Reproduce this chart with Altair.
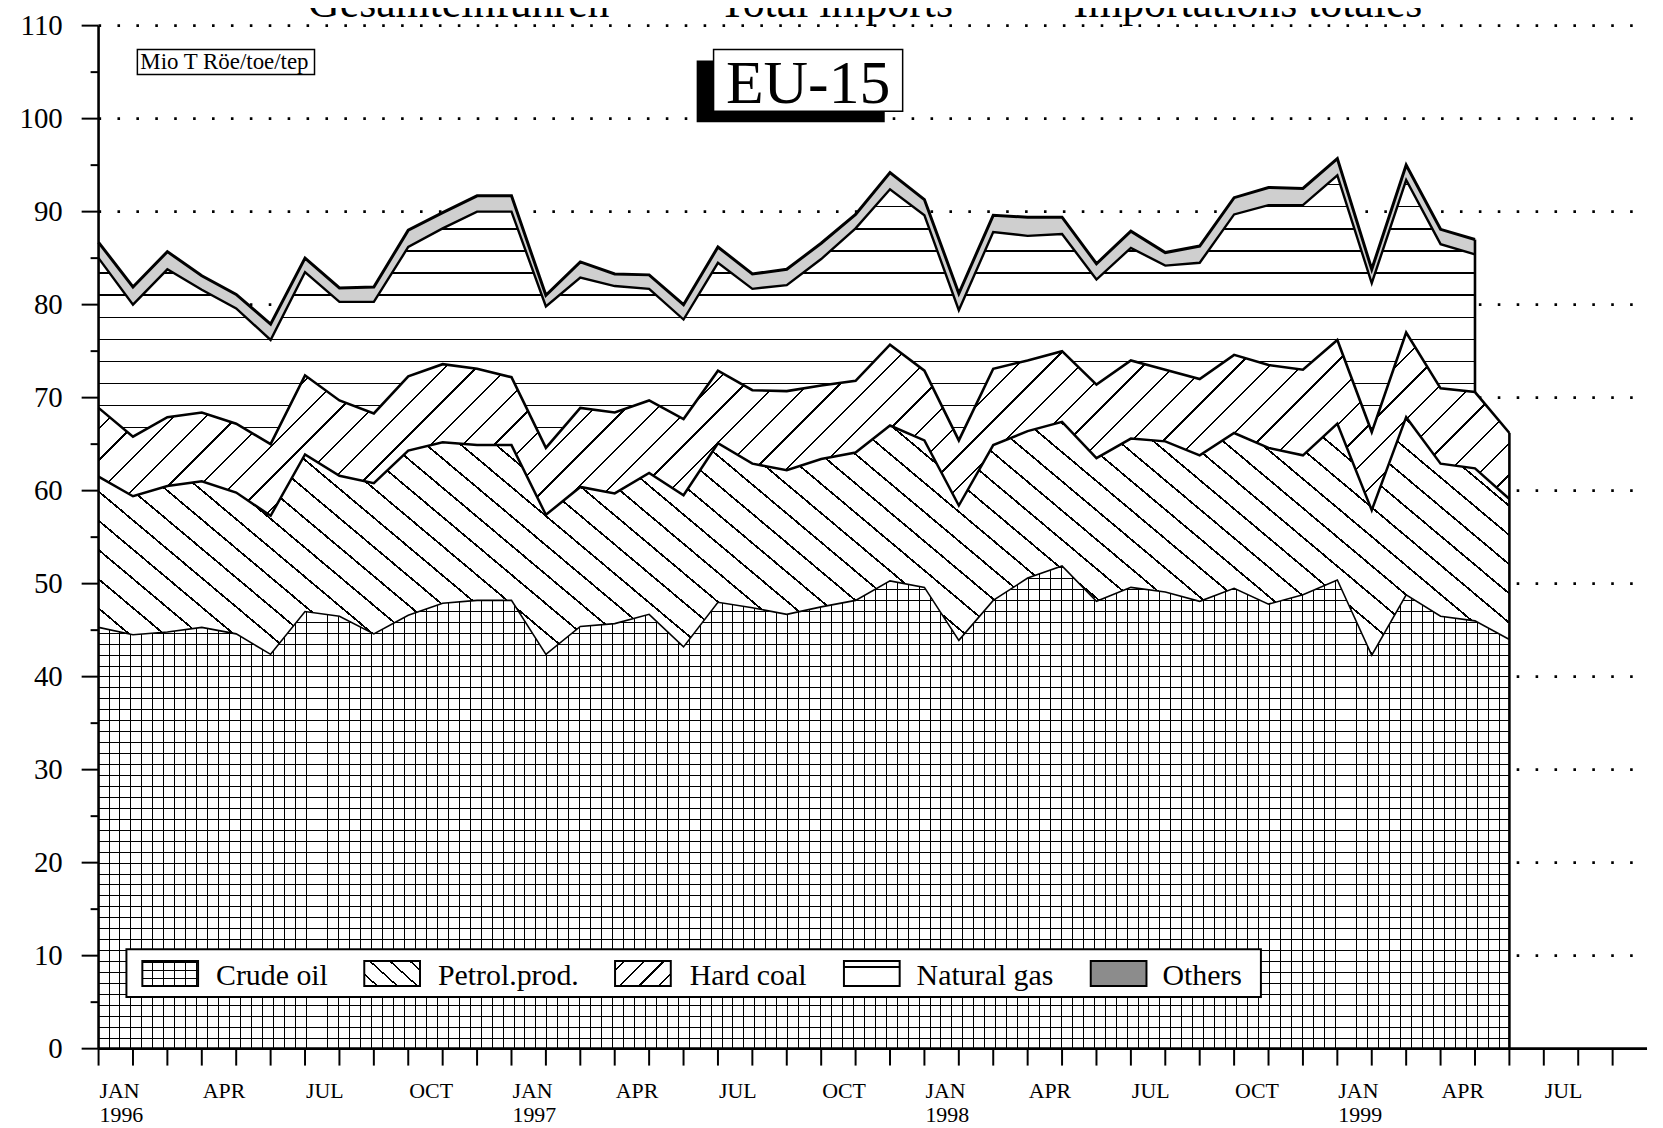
import math
import altair as alt
import pandas as pd

# ---------------- data (Mio t oil equivalent, monthly, Jan 1996 = index 0) ----------------
months_idx = list(range(42))
crude_oil = [45.3, 44.5, 44.8, 45.3, 44.6, 42.4, 47.0, 46.5, 44.6, 46.6, 47.9, 48.2,
             48.2, 42.4, 45.4, 45.7, 46.7, 43.2, 48.0, 47.4, 46.7, 47.5, 48.2, 50.3,
             49.6, 43.9, 48.2, 50.6, 51.9, 48.1, 49.6, 49.1, 48.1, 49.5, 47.8, 48.8,
             50.4, 42.3, 48.8, 46.5, 46.0, 44.0]
petrol_prod = [16.2, 14.9, 15.7, 15.7, 15.2, 14.9, 16.9, 15.1, 16.2, 17.7, 17.3, 16.7,
               16.7, 15.0, 15.0, 14.0, 15.2, 16.3, 17.1, 15.5, 15.5, 15.9, 15.9, 16.7,
               15.8, 14.5, 16.7, 15.8, 15.5, 15.4, 16.0, 16.2, 15.7, 16.7, 16.8, 15.0,
               16.8, 15.6, 19.1, 16.4, 16.4, 15.1]
hard_coal = [7.4, 6.4, 7.4, 7.4, 7.4, 7.7, 8.5, 8.1, 7.5, 8.0, 8.4, 8.2,
             7.3, 7.2, 8.5, 8.7, 7.8, 8.2, 7.8, 7.9, 8.5, 7.9, 7.7, 8.7,
             7.5, 7.0, 8.2, 7.6, 7.6, 7.9, 8.4, 7.7, 8.2, 8.4, 8.9, 9.2,
             9.0, 8.4, 9.1, 8.1, 8.2, 7.1]
natural_gas = [16.1, 14.2, 15.9, 13.2, 12.4, 11.2, 11.1, 10.6, 12.0, 13.9, 14.6, 16.9,
               17.8, 15.2, 14.0, 13.6, 12.0, 10.7, 11.6, 10.9, 11.4, 13.6, 16.4, 16.7,
               16.7, 14.0, 14.7, 13.4, 12.6, 11.3, 12.1, 11.2, 12.5, 15.1, 17.2, 17.7,
               17.7, 16.0, 16.4, 15.5, 14.8]
others = [1.7, 1.9, 1.9, 1.5, 1.5, 1.7, 1.5, 1.5, 1.6, 1.8, 1.7, 1.7,
          1.7, 1.2, 1.7, 1.3, 1.5, 1.6, 1.7, 1.6, 1.7, 1.7, 1.5, 1.8,
          1.7, 1.8, 1.8, 2.0, 1.8, 1.7, 1.8, 1.4, 1.8, 1.8, 1.9, 1.8,
          1.8, 1.5, 1.6, 1.6, 1.6]

# axis ticks and labels
x_ticks = list(range(45))
quarter_pos = list(range(0, 45, 3))
quarter_names = (["JAN", "APR", "JUL", "OCT"] * 4)[:len(quarter_pos)]
years = ["1996", "1997", "1998", "1999"]
year_pos = [0, 12, 24, 36]
y_major = list(range(0, 111, 10))
y_major_labels = [str(v) for v in y_major]
y_minor = list(range(5, 110, 10))
y_grid = list(range(10, 111, 10))

legend_labels = ["Crude oil", "Petrol.prod.", "Hard coal", "Natural gas", "Others"]
title_parts = ["Gesamteinfuhren", "Total imports", "Importations totales"]
unit_label = "Mio T Röe/toe/tep"
region_label = "EU-15"

# ---------------- tables ----------------
df_all = pd.DataFrame({"idx": months_idx, "crude": crude_oil, "petrol": petrol_prod, "coal": hard_coal})
df_all["zero"] = 0.0
df_all["b1"] = df_all["crude"]
df_all["b2"] = df_all["b1"] + df_all["petrol"]
df_all["b3"] = df_all["b2"] + df_all["coal"]
df_top = df_all.iloc[:len(natural_gas)].copy()
df_top["gas"] = natural_gas
df_top["oth"] = others
df_top["b4"] = df_top["b3"] + df_top["gas"]
df_top["b5"] = df_top["b4"] + df_top["oth"]
df_last_all = df_all.iloc[[-1]]
df_last_top = df_top.iloc[[-1]]

# ---------------- layout ----------------
W, H = 1556, 1028
X_MAX, Y_MAX = 45, 110
ppm = W / X_MAX
ppu = H / Y_MAX
FONT = "Liberation Serif"

xs = alt.Scale(domain=[0, X_MAX], nice=False, zero=False)
ys = alt.Scale(domain=[0, Y_MAX], nice=False, zero=False)


def stripes(w, h, angle, spacing, lw, fg="black", bg="white", phase=0.0):
    """Hatch pattern as a linear gradient with hard stops (bbox units)."""
    a = math.radians(angle)
    nx, ny = -math.sin(a), math.cos(a)
    corners = [(0.0, 0.0), (1.0, 0.0), (0.0, 1.0), (1.0, 1.0)]
    ps = [nx * cx * w + ny * cy * h for cx, cy in corners]
    k = min(range(4), key=lambda j: ps[j])
    L = max(ps) - ps[k]
    c = L / (nx * nx * w * w + ny * ny * h * h)
    x1, y1 = corners[k]
    x2 = x1 + c * nx * w
    y2 = y1 + c * ny * h
    stops = [(0.0, bg)]
    pos = phase % spacing
    while pos < L:
        o0 = pos / L
        o1 = min((pos + lw) / L, 1.0)
        stops += [(o0, bg), (o0, fg), (o1, fg), (o1, bg)]
        pos += spacing
    stops.append((1.0, bg))
    return alt.LinearGradient(
        gradient="linear",
        stops=[alt.GradientStop(offset=round(o, 7), color=col) for o, col in stops],
        x1=round(x1, 7), y1=round(y1, 7), x2=round(x2, 7), y2=round(y2, 7),
    )


w_all = (len(months_idx) - 1) * ppm
w_top = (len(natural_gas) - 1) * ppm
h_crude = df_all["b1"].max() * ppu
h_petrol = (df_all["b2"].max() - df_all["b1"].min()) * ppu
h_coal = (df_all["b3"].max() - df_all["b2"].min()) * ppu
h_gas = (df_top["b4"].max() - df_top["b3"].min()) * ppu

GRID = 11.0
g_crude_v = stripes(w_all, h_crude, 90, GRID, 1.0, fg="black", phase=w_all % GRID)
g_crude_h = stripes(w_all, h_crude, 0, GRID, 1.0, fg="black", bg="rgba(255,255,255,0)", phase=h_crude % GRID)
g_petrol = stripes(w_all, h_petrol, 40, 22.5, 1.8)
g_coal = stripes(w_all, h_coal, -45, 22.5, 1.8)
gas_sp = 22.2
g_gas = stripes(w_top, h_gas, 0, gas_sp, 1.4, phase=((df_top["b4"].max() - 90.6) * ppu) % gas_sp)

X = alt.X("idx:Q", scale=xs, axis=None)

# dotted grid lines
df_grid = pd.DataFrame({"g": y_grid})
df_grid["x0"] = 0
df_grid["x1"] = X_MAX
grid = alt.Chart(df_grid).mark_rule(
    stroke="black", strokeWidth=2.6, strokeDash=[2.6, 16.4]
).encode(x=alt.X("x0:Q", scale=xs, axis=None), x2="x1:Q", y=alt.Y("g:Q", scale=ys, axis=None))

crude_v = alt.Chart(df_all).mark_area(fill=g_crude_v, opacity=1).encode(
    x=X, y=alt.Y("b1:Q", scale=ys, axis=None), y2="zero:Q")
crude_h = alt.Chart(df_all).mark_area(fill=g_crude_h, opacity=1).encode(
    x=X, y=alt.Y("b1:Q", scale=ys, axis=None), y2="zero:Q")
petrol_a = alt.Chart(df_all).mark_area(fill=g_petrol, opacity=1).encode(
    x=X, y=alt.Y("b2:Q", scale=ys, axis=None), y2="b1:Q")
coal_a = alt.Chart(df_all).mark_area(fill=g_coal, opacity=1).encode(
    x=X, y=alt.Y("b3:Q", scale=ys, axis=None), y2="b2:Q")
gas_a = alt.Chart(df_top).mark_area(fill=g_gas, opacity=1).encode(
    x=X, y=alt.Y("b4:Q", scale=ys, axis=None), y2="b3:Q")
oth_a = alt.Chart(df_top).mark_area(fill="#cfcfcf", opacity=1).encode(
    x=X, y=alt.Y("b5:Q", scale=ys, axis=None), y2="b4:Q")


def bline(df, field, w):
    return alt.Chart(df).mark_line(stroke="black", strokeWidth=w, strokeJoin="miter").encode(
        x=X, y=alt.Y(field + ":Q", scale=ys, axis=None))


lines = [bline(df_all, "b1", 1.6), bline(df_all, "b2", 2.5), bline(df_all, "b3", 2.6),
         bline(df_top, "b4", 2.4), bline(df_top, "b5", 3.0)]

edge1 = alt.Chart(df_last_all).mark_rule(stroke="black", strokeWidth=2.6).encode(
    x=X, y=alt.Y("zero:Q", scale=ys, axis=None), y2="b3:Q")
edge2 = alt.Chart(df_last_top).mark_rule(stroke="black", strokeWidth=2.6).encode(
    x=X, y=alt.Y("b3:Q", scale=ys, axis=None), y2="b5:Q")

# ---------------- axes (drawn with marks through the scales) ----------------
df_dom = pd.DataFrame({"x0": [0], "x1": [X_MAX], "y0": [0], "y1": [Y_MAX]})
x_domain = alt.Chart(df_dom).mark_rule(stroke="black", strokeWidth=2.6).encode(
    x=alt.X("x0:Q", scale=xs, axis=None), x2="x1:Q", y=alt.Y("y0:Q", scale=ys, axis=None))
y_domain = alt.Chart(df_dom).mark_rule(stroke="black", strokeWidth=2.6).encode(
    x=alt.X("x0:Q", scale=xs, axis=None), y=alt.Y("y0:Q", scale=ys, axis=None), y2="y1:Q")

x_tick_marks = alt.Chart(pd.DataFrame({"t": x_ticks})).mark_rule(stroke="black", strokeWidth=2).encode(
    x=alt.X("t:Q", scale=xs, axis=None), y=alt.value(H), y2=alt.value(H + 17))
x_tick_text = alt.Chart(pd.DataFrame({"t": quarter_pos, "lab": quarter_names})).mark_text(
    font=FONT, fontSize=22, align="left", baseline="alphabetic", color="black", dx=1
).encode(x=alt.X("t:Q", scale=xs, axis=None), y=alt.value(H + 50), text="lab:N")
year_labels = alt.Chart(pd.DataFrame({"pos": year_pos, "yr": years})).mark_text(
    font=FONT, fontSize=22, align="left", baseline="alphabetic", color="black", dx=1
).encode(x=alt.X("pos:Q", scale=xs, axis=None), y=alt.value(H + 74), text="yr:N")

y_tick_major = alt.Chart(pd.DataFrame({"v": y_major})).mark_rule(stroke="black", strokeWidth=2).encode(
    x=alt.value(-17), x2=alt.value(0), y=alt.Y("v:Q", scale=ys, axis=None))
y_tick_minor = alt.Chart(pd.DataFrame({"v": y_minor})).mark_rule(stroke="black", strokeWidth=2).encode(
    x=alt.value(-8), x2=alt.value(0), y=alt.Y("v:Q", scale=ys, axis=None))
y_tick_text = alt.Chart(pd.DataFrame({"v": y_major, "lab": y_major_labels})).mark_text(
    font=FONT, fontSize=29, align="right", baseline="middle", color="black"
).encode(x=alt.value(-36), y=alt.Y("v:Q", scale=ys, axis=None), text="lab:N")

one = pd.DataFrame({"t": [""]})


def box(x0, y0, x1, y1, fill="white", stroke="black", sw=1.5, fill_opacity=1.0):
    return alt.Chart(one).mark_rect(fill=fill, stroke=stroke, strokeWidth=sw, fillOpacity=fill_opacity).encode(
        x=alt.value(x0), x2=alt.value(x1), y=alt.value(y0), y2=alt.value(y1))


def label(txt, x0, y0, size, align="left"):
    return alt.Chart(pd.DataFrame({"t": [txt]})).mark_text(
        font=FONT, fontSize=size, align=align, baseline="alphabetic", color="black"
    ).encode(x=alt.value(x0), y=alt.value(y0), text="t:N")


# top title (cut off at the top edge, as in the original page)
titles = [label(title_parts[0], 362, -9, 44, "center"),
          label(title_parts[1], 741, -9, 44, "center"),
          label(title_parts[2], 1155, -9, 44, "center")]

unit_box = [box(39, 24, 217, 49, sw=1.5), label(unit_label, 42, 44, 23)]
eu_box = [box(601, 35, 790, 97, fill="black", sw=0), box(618, 24, 808, 86, sw=1.5),
          label(region_label, 713, 78, 62, "center")]

# legend
lg_y0, lg_y1 = 940, 965
sw_x = [44, 267, 519, 749, 997]
txt_x = [118, 341, 594, 822, 1069]
sw_w = 56
legend = [box(28, 928, 1168, 976, sw=2)]
sg = {
    0: [stripes(sw_w, 25, 90, 11, 1.0, phase=sw_w % 11),
        stripes(sw_w, 25, 0, 8, 1.0, bg="rgba(255,255,255,0)", phase=25 % 8)],
    1: [stripes(sw_w, 25, 42, 13.5, 1.5, phase=6)],
    2: [stripes(sw_w, 25, -45, 14, 1.5, phase=6)],
    3: [stripes(sw_w, 25, 0, 100, 1.5, phase=5)],
}
for i, name in enumerate(legend_labels):
    x0 = sw_x[i]
    if i in sg:
        for g in sg[i]:
            legend.append(alt.Chart(one).mark_rect(fill=g).encode(
                x=alt.value(x0), x2=alt.value(x0 + sw_w), y=alt.value(lg_y0), y2=alt.value(lg_y1)))
    else:
        legend.append(box(x0, lg_y0, x0 + sw_w, lg_y1, fill="#8c8c8c", sw=0))
    legend.append(box(x0, lg_y0, x0 + sw_w, lg_y1, fill="white", sw=2, fill_opacity=0))
    legend.append(label(name, txt_x[i], 964, 30))

chart = alt.layer(
    grid, crude_v, crude_h, petrol_a, coal_a, gas_a, oth_a, *lines, edge1, edge2,
    x_domain, y_domain, x_tick_marks, x_tick_text, year_labels, y_tick_major, y_tick_minor, y_tick_text,
    *titles, *unit_box, *eu_box, *legend
).properties(
    width=W, height=H,
    padding={"left": 91, "top": 15, "right": 8, "bottom": 76},
    autosize=alt.AutoSizeParams(type="none"),
).configure_view(strokeWidth=0)

chart.save("out.html", embed_options={"renderer": "svg", "actions": False})
